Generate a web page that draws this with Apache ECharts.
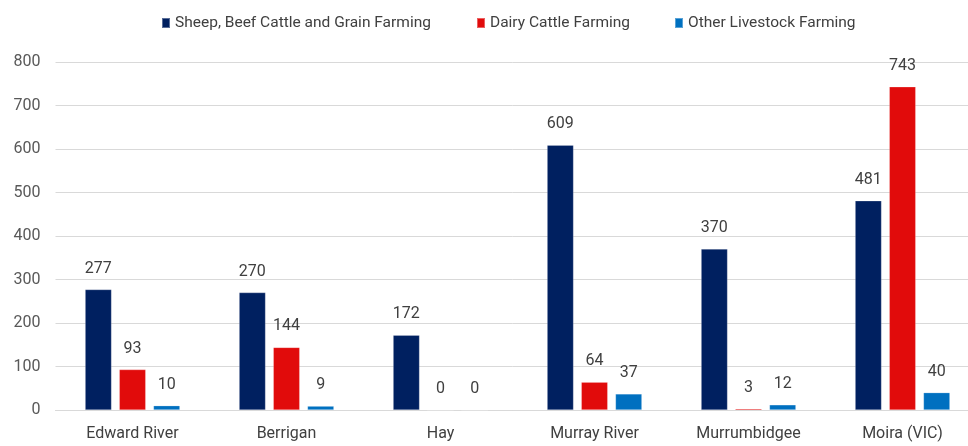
<!DOCTYPE html>
<html>
<head>
<meta charset="utf-8">
<script src="https://cdn.jsdelivr.net/npm/echarts@6/dist/echarts.min.js"></script>
<style>
  html, body { margin: 0; padding: 0; background: #ffffff; overflow: hidden; }
  #chart { width: 968px; height: 446px; }
</style>
</head>
<body>
<div id="chart"></div>
<script>
// Businesses by farming type across the region's LGAs
const categories = ['Edward River', 'Berrigan', 'Hay', 'Murray River', 'Murrumbidgee', 'Moira (VIC)'];
const sheepBeefGrain = [277, 270, 172, 609, 370, 481];
const dairyCattle = [93, 144, 0, 64, 3, 743];
const otherLivestock = [10, 9, 0, 37, 12, 40];
const seriesNames = ['Sheep, Beef Cattle and Grain Farming', 'Dairy Cattle Farming', 'Other Livestock Farming'];
const seriesColors = ['#002060', '#E10B0B', '#0070C0'];
const legendLefts = [156, 471, 669];

const textColor = '#404040';
const fontFamily = 'Roboto, "Liberation Sans", sans-serif';

function barSeries(name, values, color) {
  return {
    name: name,
    type: 'bar',
    data: values,
    barWidth: '17.2%',
    barGap: '29%',
    itemStyle: { color: color, borderColor: 'rgba(255,255,255,0.35)', borderWidth: 0.6 },
    label: {
      show: true,
      position: 'top',
      distance: 13,
      color: textColor,
      fontSize: 16,
      fontFamily: fontFamily
    }
  };
}

// one legend entry per series so each can sit at its own spot
const legends = seriesNames.map(function (name, i) {
  return {
    top: 10,
    left: legendLefts[i],
    itemWidth: 8,
    itemHeight: 10,
    icon: 'rect',
    textStyle: { color: textColor, fontSize: 15.5, fontFamily: fontFamily },
    data: [name]
  };
});

const chart = echarts.init(document.getElementById('chart'), null, { renderer: 'canvas' });
chart.setOption({
  animation: false,
  textStyle: { fontFamily: fontFamily },
  legend: legends,
  grid: { left: 55.5, width: 924, top: 62, bottom: 36, containLabel: false, outerBoundsMode: 'none' },
  xAxis: {
    type: 'category',
    data: categories,
    axisLine: { show: true, lineStyle: { color: '#D9D9D9', width: 1 } },
    axisTick: { show: false },
    axisLabel: { color: textColor, fontSize: 16, margin: 16, fontFamily: fontFamily }
  },
  yAxis: {
    type: 'value',
    min: 0,
    max: 800,
    interval: 100,
    axisLine: { show: false },
    axisTick: { show: false },
    splitLine: { lineStyle: { color: '#D9D9D9', width: 1 } },
    axisLabel: { color: '#595959', fontSize: 16, margin: 15, fontFamily: fontFamily }
  },
  series: [
    barSeries(seriesNames[0], sheepBeefGrain, seriesColors[0]),
    barSeries(seriesNames[1], dairyCattle, seriesColors[1]),
    barSeries(seriesNames[2], otherLivestock, seriesColors[2])
  ]
});
</script>
</body>
</html>
